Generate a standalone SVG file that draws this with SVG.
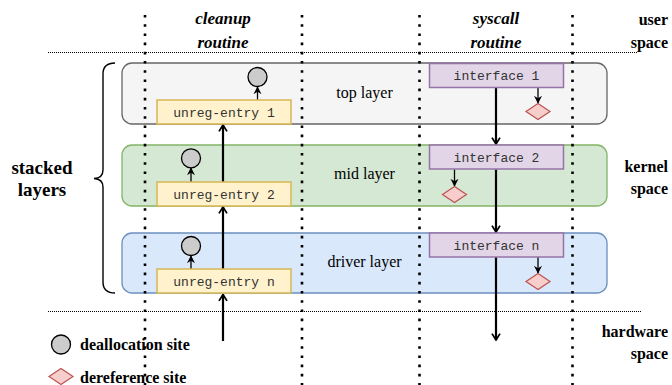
<svg xmlns="http://www.w3.org/2000/svg" width="672" height="385" viewBox="0 0 672 385">
<defs>
<style>
.vdot{stroke:#000;stroke-width:2.6;stroke-dasharray:2.6 6.6;fill:none}
.hdot{stroke:#000;stroke-width:1;stroke-dasharray:1 1;fill:none}
.lbl{font-family:"Liberation Serif",serif;font-size:16px;fill:#000}
.bold{font-weight:bold}
.bi{font-family:"Liberation Serif",serif;font-size:17px;font-weight:bold;font-style:italic;text-anchor:middle}
.mono{font-family:"Liberation Mono",monospace;font-size:13px;fill:#333;text-anchor:middle}
.entry{fill:#fff2cc;stroke:#d6b656;stroke-width:1.5}
.iface{fill:#e1d5e7;stroke:#9673a6;stroke-width:1.5}
.dealloc{fill:#cccccc;stroke:#000;stroke-width:1.3}
.deref{fill:#f8cecc;stroke:#b85450;stroke-width:1.2}
.big{stroke:#000;stroke-width:2.2;fill:none}
.small{stroke:#000;stroke-width:1.3;fill:none}
</style>
<marker id="ah" viewBox="0 0 10 12" refX="9" refY="6" markerWidth="8" markerHeight="11" markerUnits="userSpaceOnUse" orient="auto">
<path d="M1,1 L9,6 L1,11" fill="none" stroke="#000" stroke-width="2.2"/>
</marker>
<marker id="ahs" viewBox="0 0 10 10" refX="9" refY="5" markerWidth="8" markerHeight="9" markerUnits="userSpaceOnUse" orient="auto">
<path d="M0,0 L10,5 L0,10 L3,5 z" fill="#000"/>
</marker>
</defs>
<rect width="672" height="385" fill="#fff"/>

<g id="layers">
<g id="top-layer">
<rect x="122" y="63" width="485" height="61" rx="10" fill="#f5f5f5" stroke="#666" stroke-width="1.3"/>
<text class="lbl" x="364.5" y="98" text-anchor="middle">top layer</text>
</g>
<g id="mid-layer">
<rect x="122" y="145" width="485" height="61" rx="10" fill="#d5e8d4" stroke="#82b366" stroke-width="1.3"/>
<text class="lbl" x="364.5" y="179" text-anchor="middle">mid layer</text>
</g>
<g id="driver-layer">
<rect x="122" y="233" width="485" height="60" rx="10" fill="#dae8fc" stroke="#6c8ebf" stroke-width="1.3"/>
<text class="lbl" x="364.5" y="267" text-anchor="middle">driver layer</text>
</g>
</g>

<g id="guides">
<line class="vdot" x1="145" y1="15" x2="145" y2="385"/>
<line class="vdot" x1="302" y1="15" x2="302" y2="385"/>
<line class="vdot" x1="419.5" y1="15" x2="419.5" y2="385"/>
<line class="vdot" x1="572.5" y1="15" x2="572.5" y2="385"/>
<line class="hdot" x1="48" y1="52.5" x2="638" y2="52.5"/>
<line class="hdot" x1="48" y1="311.5" x2="641" y2="311.5"/>
<path d="M115,63 Q103,63 103,74 L103,170 Q103,178 94,178.5 Q103,179 103,187 L103,282 Q103,293 115,293" fill="none" stroke="#000" stroke-width="1.4"/>
</g>

<g id="connectors">
<line class="big" x1="223" y1="341" x2="223" y2="294.5" marker-end="url(#ah)"/>
<line class="big" x1="223" y1="269" x2="223" y2="207" marker-end="url(#ah)"/>
<line class="big" x1="223" y1="182" x2="223" y2="125" marker-end="url(#ah)"/>
<line class="big" x1="496" y1="88" x2="496" y2="144" marker-end="url(#ah)"/>
<line class="big" x1="496" y1="169.5" x2="496" y2="232" marker-end="url(#ah)"/>
<line class="big" x1="496" y1="257" x2="496" y2="340" marker-end="url(#ah)"/>
<line class="small" x1="257.5" y1="100" x2="257.5" y2="87" marker-end="url(#ahs)"/>
<line class="small" x1="191" y1="182" x2="191" y2="168" marker-end="url(#ahs)"/>
<line class="small" x1="191" y1="269" x2="191" y2="256" marker-end="url(#ahs)"/>
<line class="small" x1="538" y1="88" x2="538" y2="103" marker-end="url(#ahs)"/>
<line class="small" x1="454.5" y1="169.5" x2="454.5" y2="186" marker-end="url(#ahs)"/>
<line class="small" x1="538" y1="257" x2="538" y2="273" marker-end="url(#ahs)"/>
</g>

<g id="unreg-entry-1">
<rect class="entry" x="157" y="100" width="134" height="24"/>
<text class="mono" x="224" y="116.5">unreg-entry 1</text>
</g>
<g id="unreg-entry-2">
<rect class="entry" x="157" y="182" width="134" height="24"/>
<text class="mono" x="224" y="198.5">unreg-entry 2</text>
</g>
<g id="unreg-entry-n">
<rect class="entry" x="157" y="269" width="134" height="24"/>
<text class="mono" x="224" y="285.5">unreg-entry n</text>
</g>
<g id="interface-1">
<rect class="iface" x="429.5" y="63.5" width="134" height="24"/>
<text class="mono" x="496.5" y="80">interface 1</text>
</g>
<g id="interface-2">
<rect class="iface" x="429.5" y="145" width="134" height="24"/>
<text class="mono" x="496.5" y="161.5">interface 2</text>
</g>
<g id="interface-n">
<rect class="iface" x="429.5" y="233" width="134" height="24"/>
<text class="mono" x="496.5" y="249.5">interface n</text>
</g>

<g id="dealloc-top"><circle class="dealloc" cx="257.5" cy="77" r="9.5"/></g>
<g id="dealloc-mid"><circle class="dealloc" cx="191" cy="158.3" r="9.5"/></g>
<g id="dealloc-driver"><circle class="dealloc" cx="191" cy="246" r="9.5"/></g>
<g id="deref-top"><polygon class="deref" points="526,111.5 538,103.5 550,111.5 538,119.5"/></g>
<g id="deref-mid"><polygon class="deref" points="442.5,194.5 454.5,186.5 466.5,194.5 454.5,202.5"/></g>
<g id="deref-driver"><polygon class="deref" points="526,281.5 538,273.5 550,281.5 538,289.5"/></g>

<g id="labels">
<text class="bi" x="223" y="24">cleanup</text>
<text class="bi" x="223" y="47.5">routine</text>
<text class="bi" x="496" y="24">syscall</text>
<text class="bi" x="496" y="47.5">routine</text>
<text class="lbl bold" x="668" y="25" text-anchor="end">user</text>
<text class="lbl bold" x="668" y="48" text-anchor="end">space</text>
<text class="lbl bold" x="668" y="172" text-anchor="end">kernel</text>
<text class="lbl bold" x="668" y="194" text-anchor="end">space</text>
<text class="lbl bold" x="668" y="337" text-anchor="end">hardware</text>
<text class="lbl bold" x="668" y="359" text-anchor="end">space</text>
<text class="lbl bold" x="42" y="174" text-anchor="middle" style="font-size:19px">stacked</text>
<text class="lbl bold" x="42" y="196" text-anchor="middle" style="font-size:19px">layers</text>
</g>

<g id="legend">
<circle class="dealloc" cx="61" cy="344.5" r="9.5"/>
<text class="lbl bold" x="80" y="350">deallocation site</text>
<polygon class="deref" points="49,376.5 61,368.5 73,376.5 61,384.5"/>
<text class="lbl bold" x="80" y="383">dereference site</text>
</g>
</svg>
